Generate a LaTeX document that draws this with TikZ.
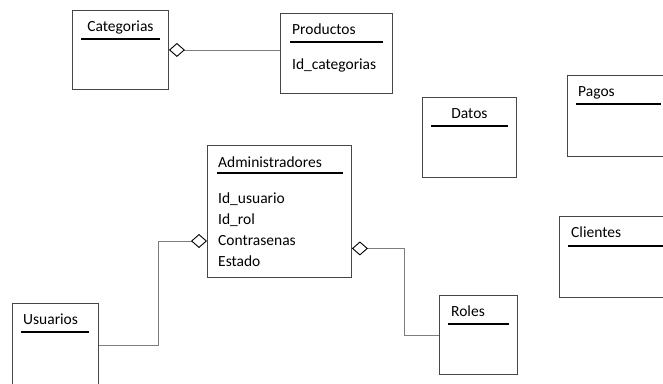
\documentclass[tikz,border=0pt]{standalone}
\usepackage{fontspec}
\setmainfont{Carlito}
\usetikzlibrary{arrows.meta}
\usetikzlibrary{calc}
\definecolor{borde}{RGB}{70,70,70}
\definecolor{enlace}{RGB}{125,125,125}

\begin{document}
\begin{tikzpicture}[x=1pt, y=-1pt,
		tabla/.style={draw=borde, line width=0.9pt, anchor=north west, inner sep=0pt},
		titulo/.style={anchor=base west, inner sep=0pt, font=\fontsize{15.5}{18}\selectfont},
		raya/.style={line width=1.7pt},
		union/.style={draw=enlace, line width=0.8pt},
		rombo/.tip={Diamond[open, length=16pt, width=14pt, color=black, line width=0.9pt]}]
	\clip (0,0) rectangle (663,383);
	% tablas
	\node[tabla, minimum width=96pt, minimum height=79pt] (cat) at (72,10) {};
	\node[titulo, anchor=base] (cattit) at ($(cat.north)+(0,21)$) {Categorias};
	\draw[raya] ($(cat.north west)+(9,29)$) -- ($(cat.north east)+(-9,29)$);
	
	\node[tabla, minimum width=112pt, minimum height=80pt] (prod) at (280,13) {};
	\node[titulo] (prodtit) at ($(prod.north west)+(12,21)$) {Productos};
	\draw[raya] ($(prod.north west)+(10,29)$) -- ($(prod.north east)+(-10,29)$);
	\node[titulo] (idcat) at ($(prod.north west)+(12,56)$) {Id\_categorias};
	
	\node[tabla, minimum width=94pt, minimum height=80pt] (datos) at (422,97) {};
	\node[titulo, anchor=base] (datostit) at ($(datos.north)+(0,21)$) {Datos};
	\draw[raya] ($(datos.north west)+(9,29)$) -- ($(datos.north east)+(-9,29)$);
	
	\node[tabla, minimum width=102pt, minimum height=81pt] (pagos) at (567,75) {};
	\node[titulo] (pagostit) at ($(pagos.north west)+(11,21)$) {Pagos};
	\draw[raya] ($(pagos.north west)+(9,29)$) -- ($(pagos.north east)+(-9,29)$);
	
	\node[tabla, minimum width=144pt, minimum height=132pt] (admin) at (207,145) {};
	\node[titulo] (admintit) at ($(admin.north west)+(11,22)$) {Administradores};
	\draw[raya] ($(admin.north west)+(10,28)$) -- ($(admin.north east)+(-9,28)$);
	\node[titulo] (idusu) at ($(admin.north west)+(11,58)$) {Id\_usuario};
	\node[titulo] (idrol) at ($(idusu.base west)+(0,21)$) {Id\_rol};
	\node[titulo] (contra) at ($(idrol.base west)+(0,21)$) {Contrasenas};
	\node[titulo] (estado) at ($(contra.base west)+(0,21)$) {Estado};
	
	\node[tabla, minimum width=104pt, minimum height=81pt] (clientes) at (559,216) {};
	\node[titulo] (clientestit) at ($(clientes.north west)+(12,21)$) {Clientes};
	\draw[raya] ($(clientes.north west)+(9,30)$) -- ($(clientes.north east)+(0,30)$);
	
	\node[tabla, minimum width=86pt, minimum height=84pt] (usu) at (12,303) {};
	\node[titulo] (usutit) at ($(usu.north west)+(11,21)$) {Usuarios};
	\draw[raya] ($(usu.north west)+(9,29)$) -- ($(usu.north east)+(-10,29)$);
	
	\node[tabla, minimum width=78pt, minimum height=79pt] (roles) at (439,295) {};
	\node[titulo] (rolestit) at ($(roles.north west)+(12,21)$) {Roles};
	\draw[raya] ($(roles.north west)+(9,29)$) -- ($(roles.north east)+(-9,29)$);
	
	% relaciones
	\draw[union, rombo-] (cat.east) -- (cat.east -| prod.west);
	\draw[union, rombo-] ($(admin.north west)+(0,96)$) -- ++(-49,0) |- (usu.east);
	\draw[union, rombo-] ($(admin.east)+(0,37)$) -- ++(52,0) |- (roles.west);
\end{tikzpicture}
\end{document}
